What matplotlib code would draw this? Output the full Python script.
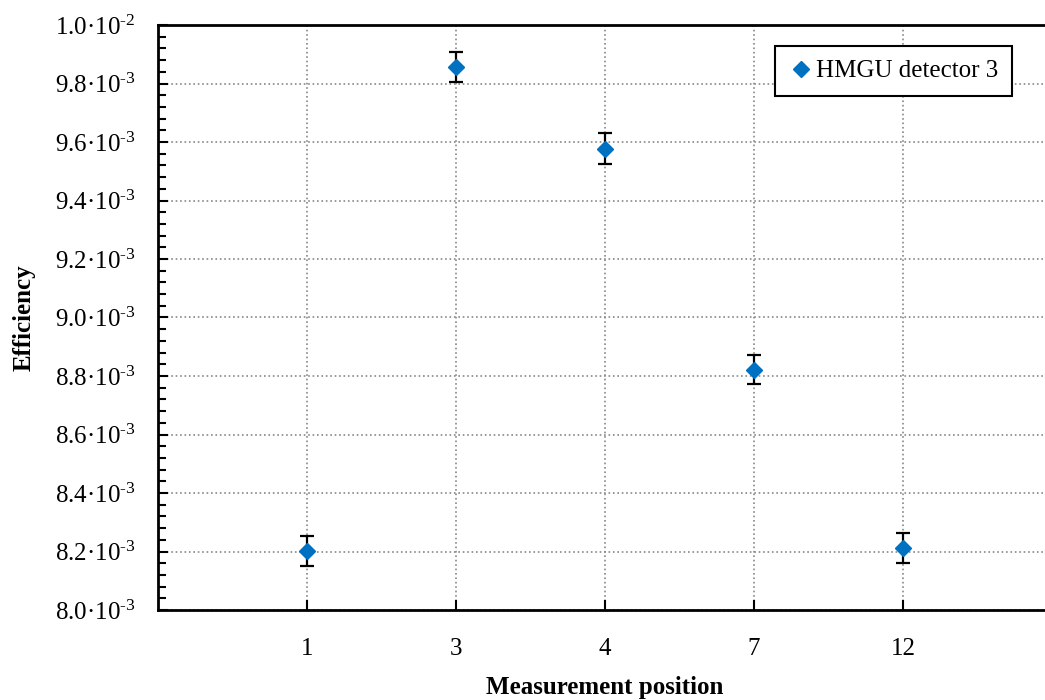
import matplotlib
matplotlib.use("Agg")
import matplotlib.pyplot as plt
from matplotlib.ticker import FixedLocator, MultipleLocator, FuncFormatter

plt.rcParams["font.family"] = ["Liberation Serif", "DejaVu Serif"]
plt.rcParams["mathtext.fontset"] = "custom"
plt.rcParams["mathtext.rm"] = "Liberation Serif"
plt.rcParams["mathtext.it"] = "Liberation Serif:italic"
plt.rcParams["mathtext.bf"] = "Liberation Serif:bold"

# measurement data
positions = ["1", "3", "4", "7", "12"]
efficiency = [8.202e-3, 9.857e-3, 9.577e-3, 8.821e-3, 8.212e-3]
efficiency_err = [0.05e-3, 0.052e-3, 0.053e-3, 0.05e-3, 0.05e-3]


def sci_fmt(v, _pos):
    exp = -2 if v >= 0.99995e-2 else -3
    mant = v / 10 ** exp
    return f"{mant:.1f}\u00b710$^{{\\text{{{exp}}}}}$"


fig = plt.figure(figsize=(10.45, 7), dpi=100)
# the plot area runs past the right edge of the canvas in the reference
ax = fig.add_axes([158 / 1045, 90 / 700, 894 / 1045, 585 / 700])

x = list(range(1, len(positions) + 1))
ax.errorbar(x, efficiency, yerr=efficiency_err, fmt="none",
            ecolor="black", elinewidth=1.6, capsize=5, capthick=1.6, zorder=3)
ax.plot(x, efficiency, "D", color="#0070C0", markersize=8.5,
        label="HMGU detector 3", zorder=4)

ax.set_xlim(0, 6)
ax.set_ylim(8.0e-3, 1.0e-2)
ax.xaxis.set_major_locator(FixedLocator(x))
ax.set_xticklabels(positions)
ax.yaxis.set_major_locator(MultipleLocator(0.2e-3))
ax.yaxis.set_minor_locator(MultipleLocator(0.04e-3))
ax.yaxis.set_major_formatter(FuncFormatter(sci_fmt))

ax.tick_params(axis="both", which="both", direction="in", width=1.5,
               labelsize=18, top=False, right=False)
ax.tick_params(axis="both", which="major", length=7)
ax.tick_params(axis="y", which="major", pad=16)
ax.tick_params(axis="y", which="minor", length=6)
ax.tick_params(axis="x", which="major", pad=20)

ax.grid(True, which="major", linestyle=":", color="#888888", linewidth=1.2)
for s in ax.spines.values():
    s.set_linewidth(2)

ax.set_xlabel("Measurement position", fontsize=18, fontweight="bold", labelpad=12)
ax.set_ylabel("Efficiency", fontsize=18, fontweight="bold", labelpad=14)

leg = ax.legend(loc="upper right", bbox_to_anchor=(1012 / 1045, 654 / 700),
                bbox_transform=fig.transFigure, fontsize=18, fancybox=False,
                framealpha=1, edgecolor="black", handletextpad=0.1,
                handlelength=1.0, borderpad=0.55, borderaxespad=0)
leg.get_frame().set_linewidth(1.5)

fig.savefig("out.png", dpi=100)
